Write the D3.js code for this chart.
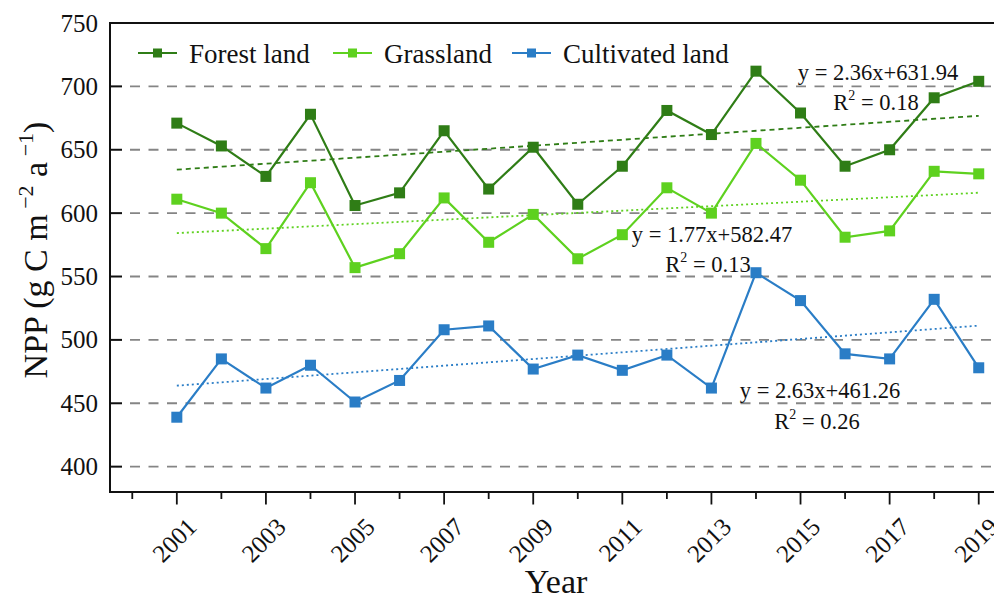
<!DOCTYPE html>
<html>
<head>
<meta charset="utf-8">
<script src="https://cdn.jsdelivr.net/npm/d3@7/dist/d3.min.js"></script>
<style>
  html, body { margin: 0; padding: 0; background: #fff; }
  svg { display: block; font-family: "Liberation Serif", "Times New Roman", serif; }
</style>
</head>
<body>
<svg id="chart" width="994" height="600"></svg>
<script>
// Annual NPP by land-use type, 2001–2019
const years = d3.range(2001, 2020);
const forestLand = [671, 653, 629, 678, 606, 616, 665, 619, 652, 607, 637, 681, 662, 712, 679, 637, 650, 691, 704];
const grassland = [611, 600, 572, 624, 557, 568, 612, 577, 599, 564, 583, 620, 600, 655, 626, 581, 586, 633, 631];
const cultivatedLand = [439, 485, 462, 480, 451, 468, 508, 511, 477, 488, 476, 488, 462, 553, 531, 489, 485, 532, 478];
const seriesNames = ["Forest land", "Grassland", "Cultivated land"];
const seriesColors = ["#2f7d16", "#5ed11f", "#2a7dc6"];
// linear fits y = slope * x + intercept, x = 1..19
const fitSlopes = [2.36, 1.77, 2.63];
const fitIntercepts = [631.94, 582.47, 461.26];
const fitR2 = ["0.18", "0.13", "0.26"];
const yTicks = [400, 450, 500, 550, 600, 650, 700, 750];
const xTickLabels = [2001, 2003, 2005, 2007, 2009, 2011, 2013, 2015, 2017, 2019];

const seriesValues = [forestLand, grassland, cultivatedLand];

const svg = d3.select("#chart");
const plotL = 110, plotT = 23, plotR = 1001, plotB = 492;

const x = d3.scaleLinear().domain([1999.5, 2019.5]).range([plotL, plotR]);
const y = d3.scaleLinear().domain([380, 750]).range([plotB, plotT]);

// grid lines
svg.append("g").selectAll("line")
  .data(yTicks.filter(t => t < 750))
  .join("line")
  .attr("x1", plotL + 20).attr("x2", plotR)
  .attr("y1", d => y(d)).attr("y2", d => y(d))
  .attr("stroke", "#858585").attr("stroke-width", 1.8)
  .attr("stroke-dasharray", "10,8.5");

// frame
svg.append("rect")
  .attr("x", plotL).attr("y", plotT)
  .attr("width", plotR - plotL).attr("height", plotB - plotT)
  .attr("fill", "none").attr("stroke", "#111").attr("stroke-width", 2);

// y axis
const yAxis = d3.axisLeft(y).tickValues(yTicks).tickSize(0).tickPadding(12);
const gy = svg.append("g").attr("transform", `translate(${plotL},0)`).call(yAxis);
gy.select(".domain").remove();
gy.selectAll("text").attr("font-size", 25).attr("fill", "#111")
  .attr("font-family", "Liberation Serif, serif");
// inward major y ticks
svg.append("g").selectAll("line").data(yTicks.filter(t => t < 750)).join("line")
  .attr("x1", plotL).attr("x2", plotL + 12)
  .attr("y1", d => y(d)).attr("y2", d => y(d))
  .attr("stroke", "#111").attr("stroke-width", 2);

// x axis ticks: long on odd years, short on even years
const allTickYears = d3.range(2000, 2020);
svg.append("g").selectAll("line").data(allTickYears).join("line")
  .attr("x1", d => x(d)).attr("x2", d => x(d))
  .attr("y1", plotB).attr("y2", d => plotB + (d % 2 === 1 ? 12.5 : 7))
  .attr("stroke", "#111").attr("stroke-width", 1.8);

svg.append("g").selectAll("text").data(xTickLabels).join("text")
  .attr("transform", d => `translate(${x(d) + 9},${plotB + 24}) rotate(-45)`)
  .attr("text-anchor", "end")
  .attr("dy", "0.7em")
  .attr("font-size", 25).attr("fill", "#111")
  .text(d => d);

// axis titles
svg.append("text")
  .attr("x", 556).attr("y", 593)
  .attr("text-anchor", "middle")
  .attr("font-size", 34).attr("fill", "#111")
  .text("Year");

const yt = svg.append("text")
  .attr("transform", `translate(47,250) rotate(-90)`)
  .attr("text-anchor", "middle")
  .attr("font-size", 34).attr("fill", "#111");
yt.append("tspan").text("NPP (g C m");
yt.append("tspan").attr("dy", -14).attr("font-size", 22).text(" −2");
yt.append("tspan").attr("dy", 14).text(" a");
yt.append("tspan").attr("dy", -14).attr("font-size", 22).text(" −1");
yt.append("tspan").attr("dy", 14).text(")");

// trend lines
const fitStyles = ["5,4", "2,3", "2,3"];
seriesValues.forEach((vals, i) => {
  const fitLine = d3.line()
    .x(d => x(d))
    .y(d => y(fitSlopes[i] * (d - 2000) + fitIntercepts[i]));
  svg.append("path")
    .datum([2001, 2019])
    .attr("d", fitLine)
    .attr("fill", "none")
    .attr("stroke", seriesColors[i])
    .attr("stroke-width", 1.8)
    .attr("stroke-dasharray", fitStyles[i]);
});

// series lines and markers
const line = d3.line().x((d, j) => x(years[j])).y(d => y(d));
seriesValues.forEach((vals, i) => {
  svg.append("path")
    .datum(vals)
    .attr("d", line)
    .attr("fill", "none")
    .attr("stroke", seriesColors[i])
    .attr("stroke-width", 2.2);
  svg.append("g").selectAll("rect").data(vals).join("rect")
    .attr("x", (d, j) => x(years[j]) - 5.5)
    .attr("y", d => y(d) - 5.5)
    .attr("width", 11).attr("height", 11)
    .attr("fill", seriesColors[i]);
});

// fit equations
const eqPos = [[878, 80, 876, 110], [712, 242, 708, 272], [820, 398, 817, 429]];
seriesValues.forEach((vals, i) => {
  const p = eqPos[i];
  svg.append("text")
    .attr("x", p[0]).attr("y", p[1])
    .attr("text-anchor", "middle")
    .attr("font-size", 22.5).attr("fill", "#111")
    .text(`y = ${fitSlopes[i]}x+${fitIntercepts[i]}`);
  const r = svg.append("text")
    .attr("x", p[2]).attr("y", p[3])
    .attr("text-anchor", "middle")
    .attr("font-size", 22.5).attr("fill", "#111");
  r.append("tspan").text("R");
  r.append("tspan").attr("dy", -10).attr("font-size", 14).text("2");
  r.append("tspan").attr("dy", 10).text(` = ${fitR2[i]}`);
});

// legend
const legendX = [138, 333, 512];
const legend = svg.append("g");
seriesNames.forEach((name, i) => {
  const g = legend.append("g").attr("transform", `translate(${legendX[i]},53)`);
  g.append("line").attr("x1", 0).attr("x2", 39)
    .attr("stroke", seriesColors[i]).attr("stroke-width", 2.2);
  g.append("rect").attr("x", 15).attr("y", -4.5).attr("width", 9).attr("height", 9)
    .attr("fill", seriesColors[i]);
  g.append("text").attr("x", 51).attr("y", 10)
    .attr("font-size", 27).attr("fill", "#111")
    .text(name);
});
</script>
</body>
</html>
